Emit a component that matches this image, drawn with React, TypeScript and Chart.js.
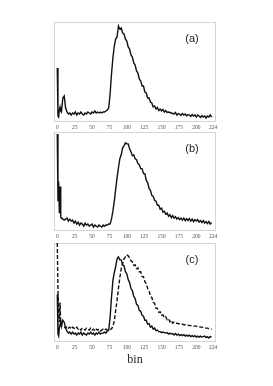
import React, { useEffect, useRef } from "react";
import { Chart, registerables } from "chart.js";

Chart.register(...registerables);

// bin positions (fine near 0, then every 2 bins)
const bins = [
  0, 1, 2, 3, 4, 5, 6,
  8, 10, 12, 14, 16, 18, 20, 22, 24, 26,
  28, 30, 32, 34, 36, 38, 40, 42, 44, 46,
  48, 50, 52, 54, 56, 58, 60, 62, 64, 66,
  68, 70, 72, 74, 76, 78, 80, 82, 84, 86,
  88, 90, 92, 94, 96, 98, 100, 102, 104, 106,
  108, 110, 112, 114, 116, 118, 120, 122, 124, 126,
  128, 130, 132, 134, 136, 138, 140, 142, 144, 146,
  148, 150, 152, 154, 156, 158, 160, 162, 164, 166,
  168, 170, 172, 174, 176, 178, 180, 182, 184, 186,
  188, 190, 192, 194, 196, 198, 200, 202, 204, 206,
  208, 210, 212, 214, 216, 218, 220, 222,
];

// panel (a)
const seriesA = [
  54, 6, 5, 12, 15, 11, 10,
  24, 26, 14, 10, 8, 9, 7, 9, 8, 10,
  7, 9, 8, 10, 8, 7, 9, 8, 10, 9,
  8, 10, 9, 11, 9, 10, 9, 10, 9, 10,
  10, 11, 12, 14, 28, 48, 64, 76, 83, 85,
  96, 93, 94, 89, 88, 83, 81, 75, 73, 67,
  65, 59, 57, 51, 49, 43, 41, 36, 36, 30,
  29, 24, 24, 20, 19, 15, 16, 13, 14.5, 11.5,
  13, 11, 12.5, 10, 11.5, 9.5, 10, 9.5, 9, 8.5,
  8, 9.5, 7, 8.5, 8, 6.5, 8.5, 7, 8, 6,
  7.5, 7, 5.5, 7.5, 6, 7, 5, 7, 6, 4.5,
  6.5, 5, 6, 4, 6, 5, 7, 5,
];

// panel (b)
const seriesB = [
  98, 30, 50, 18, 45, 14, 13,
  12, 11, 12, 13, 10, 12, 10, 11, 8, 10,
  7, 9, 6, 8, 7, 5, 8, 6, 7, 5,
  6, 7, 4, 6, 5, 4, 6, 5, 4, 6,
  5, 6, 6, 7, 7, 12, 20, 30, 42, 54,
  64, 73, 77, 84, 86, 89, 88, 88, 83, 80,
  76, 77, 73, 72, 68, 67, 63, 63, 58, 58,
  51, 49, 43, 41, 36, 35, 31, 30, 26, 26,
  22, 23, 19, 20, 17, 18, 15, 16.5, 13.5, 15.5,
  13, 14.5, 12, 13.5, 11.5, 13, 11, 13, 10.5, 12.5,
  10.5, 12.5, 10, 12, 9.5, 11.5, 10, 11.5, 9, 10.5,
  8.5, 10.5, 8, 9.5, 7.5, 9.5, 7, 8.5,
];

// panel (c), solid line
const seriesCSolid = [
  48, 8, 6, 14, 18, 22, 16,
  22, 20, 14, 11, 9, 10, 8, 10, 8, 9,
  7, 9, 8, 10, 7, 9, 8, 7, 9, 8,
  10, 8, 9, 7, 9, 8, 10, 8, 9, 9,
  10, 9, 11, 12, 25, 45, 62, 70, 76, 84,
  86, 83, 83, 78, 77, 71, 69, 63, 60, 54,
  52, 46, 44, 38, 37, 32, 31, 27, 26, 22,
  22, 18, 18.5, 15, 16, 13, 14, 11.5, 12, 10.5,
  10.5, 9.5, 10, 9.5, 9, 9.5, 8, 9, 8, 8.5,
  7, 8.5, 7, 8, 6.5, 7.5, 6.5, 7.5, 6, 7,
  6, 7, 5.5, 6.5, 5.5, 6.5, 5, 6, 5, 6,
  5, 5.5, 6, 4.5, 5.5, 4, 5.5, 5,
];

// panel (c), dashed line
const seriesCDashed = [
  100, 52, 30, 20, 40, 17, 16,
  16, 15, 14, 16, 14, 15, 13, 15, 14, 13,
  15, 13, 14, 12, 14, 13, 12, 14, 13, 12,
  14, 12, 13, 11, 13, 12, 13, 11, 12, 13,
  12, 13, 12, 12, 13, 13, 16, 21, 32, 42,
  54, 65, 74, 79, 84, 86, 88, 87, 85, 82,
  81, 77.5, 78, 74, 75, 71, 71, 66, 66, 61,
  59, 54, 52, 46, 45, 40, 39, 34, 34, 30,
  30.5, 27, 27.5, 24.5, 25.5, 22.5, 23.5, 20.5, 22, 19,
  20, 19, 19, 18.5, 18.5, 18, 18, 17.5, 17.5, 17,
  17, 16.5, 16.5, 16.5, 16, 16, 16, 15.5, 15.5, 15,
  15, 14.5, 14.5, 14, 14, 13.5, 13.5, 13,
];

const tickValues = [0, 25, 50, 75, 100, 125, 150, 175, 200, 224];
const panelLabels = ["(a)", "(b)", "(c)"];
const axisTitle = "bin";

const W = 273;
const H = 386;
const PLOT_LEFT = 54;
const PLOT_RIGHT = 216;

type PanelDef = {
  top: number;
  bottom: number;
  label: string;
  lines: { values: number[]; dash: number[] }[];
  title: boolean;
};

const panels: PanelDef[] = [
  { top: 22, bottom: 122, label: panelLabels[0], lines: [{ values: seriesA, dash: [] }], title: false },
  { top: 132, bottom: 231, label: panelLabels[1], lines: [{ values: seriesB, dash: [] }], title: false },
  {
    top: 243,
    bottom: 342,
    label: panelLabels[2],
    lines: [
      { values: seriesCDashed, dash: [4, 2] },
      { values: seriesCSolid, dash: [] },
    ],
    title: true,
  },
];

function Panel({ def }: { def: PanelDef }) {
  const ref = useRef<HTMLCanvasElement>(null);
  useEffect(() => {
    if (!ref.current) return;
    const axisH = def.title ? 25 : 10;
    const framePlugin = {
      id: "frame",
      beforeDatasetsDraw(chart: any) {
        const { ctx, chartArea: a } = chart;
        ctx.save();
        ctx.strokeStyle = "#d4d4d4";
        ctx.lineWidth = 1;
        ctx.strokeRect(a.left + 0.5, a.top + 0.5, a.right - a.left - 1, a.bottom - a.top - 1);
        ctx.restore();
      },
      afterDraw(chart: any) {
        const { ctx, chartArea: a } = chart;
        ctx.save();
        ctx.fillStyle = "#222";
        ctx.font = "11px 'Liberation Sans', Arial, sans-serif";
        ctx.textAlign = "center";
        ctx.textBaseline = "middle";
        ctx.fillText(def.label, a.right - 24, a.top + 16.5);
        ctx.restore();
      },
    };
    const chart = new Chart(ref.current, {
      type: "line",
      data: {
        datasets: def.lines.map((l) => ({
          data: bins.map((b, i) => ({ x: b, y: l.values[i] })),
          borderColor: "#111",
          borderWidth: 1.4,
          borderDash: l.dash,
          pointRadius: 0,
          tension: 0,
          fill: false,
        })),
      },
      options: {
        animation: false,
        responsive: false,
        devicePixelRatio: 1,
        layout: {
          padding: {
            left: PLOT_LEFT,
            right: W - PLOT_RIGHT,
            top: def.top,
            bottom: H - def.bottom - axisH,
          },
        },
        plugins: {
          legend: { display: false },
          tooltip: { enabled: false },
        },
        scales: {
          x: {
            type: "linear",
            min: -4.7,
            max: 228.3,
            grid: { display: false, drawTicks: false },
            border: { display: false },
            afterBuildTicks: (scale: any) => {
              scale.ticks = tickValues.map((v) => ({ value: v }));
            },
            afterFit: (scale: any) => {
              scale.height = axisH;
            },
            ticks: {
              autoSkip: false,
              maxRotation: 0,
              padding: 2,
              color: "#555",
              font: { family: "'Liberation Serif', 'DejaVu Serif', serif", size: 5.5 },
              callback: (v: any) => String(v),
            },
            title: {
              display: def.title,
              text: axisTitle,
              padding: 0,
              color: "#222",
              font: { family: "'Liberation Serif', 'DejaVu Serif', serif", size: 12 },
            },
          },
          y: {
            display: false,
            min: 0,
            max: 100,
          },
        },
      },
      plugins: [framePlugin],
    } as any);
    return () => chart.destroy();
  }, [def]);
  return (
    <canvas
      ref={ref}
      width={W}
      height={H}
      style={{ position: "absolute", left: 0, top: 0, width: W, height: H }}
    />
  );
}

export default function App() {
  return (
    <div style={{ position: "absolute", left: 0, top: 0, width: W, height: H, background: "#fff" }}>
      {panels.map((p, i) => (
        <Panel key={i} def={p} />
      ))}
    </div>
  );
}
